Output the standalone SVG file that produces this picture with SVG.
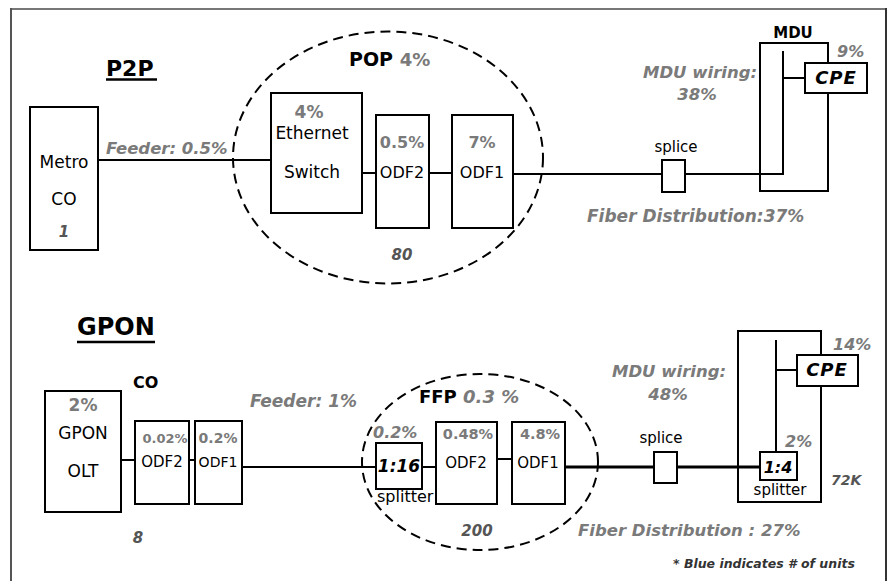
<svg xmlns="http://www.w3.org/2000/svg" width="890" height="581" viewBox="0 0 890 581">
<style>
text{font-family:"DejaVu Sans","Liberation Sans",sans-serif;font-size:17px;}
.box{fill:#fff;stroke:#000;stroke-width:2;}
.frm{fill:none;stroke:#000;stroke-width:2;}
.ln{stroke:#000;stroke-width:2;fill:none;}
.thk{stroke:#000;stroke-width:3;fill:none;}
.ell{fill:none;stroke:#000;stroke-width:2;stroke-dasharray:10 6;}
.t{fill:#000;}
.c{text-anchor:middle;}
.b{font-weight:bold;}
.g{fill:#7a7a7a;font-weight:bold;}
.gi{fill:#7a7a7a;font-weight:bold;font-style:italic;}
.n{fill:#555;font-weight:bold;font-style:italic;}
.bi{fill:#000;font-weight:bold;font-style:italic;}
</style>
<rect x="0" y="0" width="890" height="581" fill="#fff"/>
<g id="frame">
<line x1="11" y1="9" x2="887" y2="9" stroke="#777" stroke-width="2"/>
<line x1="11" y1="8" x2="11" y2="581" stroke="#555" stroke-width="2"/>
<line x1="886" y1="8" x2="886" y2="581" stroke="#333" stroke-width="2"/>
</g>
<g id="connectors">
<line class="ln" x1="98" y1="160" x2="271" y2="160"/>
<line class="ln" x1="362" y1="173" x2="376" y2="173"/>
<line class="ln" x1="429" y1="173" x2="452" y2="173"/>
<line class="ln" x1="513" y1="174" x2="662" y2="174"/>
<polyline class="ln" points="685,174 783,174 783,51"/>
<line class="ln" x1="783" y1="78" x2="805" y2="78"/>
<line class="ln" x1="121" y1="460" x2="135" y2="460"/>
<line class="ln" x1="189" y1="460" x2="195" y2="460"/>
<line class="ln" x1="242" y1="467" x2="376" y2="467"/>
<line class="ln" x1="422" y1="467" x2="436" y2="467"/>
<line class="ln" x1="497" y1="459" x2="512" y2="459"/>
<line class="thk" x1="565" y1="467" x2="654" y2="467"/>
<line class="thk" x1="677" y1="467" x2="760" y2="467"/>
<line class="ln" x1="776" y1="340" x2="776" y2="452"/>
<line class="ln" x1="776" y1="370" x2="797" y2="370"/>
</g>
<g id="titles">
<text x="106" y="76" class="t b" style="font-size:22px">P2P</text>
<line x1="106" y1="79.5" x2="157" y2="79.5" stroke="#000" stroke-width="2.5"/>
<text x="77" y="335" class="t b" style="font-size:24px">GPON</text>
<line x1="77" y1="342" x2="155" y2="342" stroke="#000" stroke-width="2.5"/>
</g>
<g id="metro-co">
<rect class="box" x="30" y="107" width="68" height="143"/>
<text x="64" y="168" class="t c">Metro</text>
<text x="64" y="205" class="t c">CO</text>
<text x="64" y="237" class="n c" style="font-size:15px">1</text>
</g>
<g id="feeder-p2p"><text x="106" y="154" class="gi" style="font-size:16.5px">Feeder: 0.5%</text></g>
<g id="pop">
<ellipse class="ell" cx="388" cy="157.5" rx="155" ry="126"/>
<text x="349" y="66" class="t b" style="font-size:19px">POP <tspan class="g" style="font-size:18px">4%</tspan></text>
<text x="402" y="260" class="n c" style="font-size:15px">80</text>
</g>
<g id="ethernet-switch">
<rect class="box" x="271" y="93" width="91" height="120"/>
<text x="309" y="118" class="g c">4%</text>
<text x="312" y="139" class="t c">Ethernet</text>
<text x="312" y="178" class="t c">Switch</text>
</g>
<g id="pop-odf2">
<rect class="box" x="376" y="115" width="53" height="113"/>
<text x="402" y="148" class="g c" style="font-size:16px">0.5%</text>
<text x="402" y="178" class="t c" style="font-size:16px">ODF2</text>
</g>
<g id="pop-odf1">
<rect class="box" x="452" y="115" width="61" height="113"/>
<text x="482" y="148" class="g c" style="font-size:16px">7%</text>
<text x="482" y="178" class="t c" style="font-size:16px">ODF1</text>
</g>
<g id="p2p-splice">
<rect class="box" x="662" y="160" width="23" height="32"/>
<text x="676" y="152" class="t c" style="font-size:15px">splice</text>
</g>
<g id="p2p-mdu">
<rect class="frm" x="760" y="43" width="68" height="148"/>
<text x="793" y="38" class="t c b" style="font-size:15px">MDU</text>
<text x="837" y="57" class="gi" style="font-size:16px">9%</text>
</g>
<g id="p2p-cpe">
<rect class="box" x="805" y="63" width="62" height="30"/>
<text x="836" y="84" class="bi c" style="font-size:18px" letter-spacing="1">CPE</text>
</g>
<g id="p2p-labels">
<text x="643" y="78" class="gi" style="font-size:16.5px">MDU wiring:</text>
<text x="697" y="100" class="gi c" style="font-size:16.5px">38%</text>
<text x="587" y="222" class="gi">Fiber Distribution:37%</text>
</g>
<g id="gpon-olt">
<rect class="box" x="45" y="391" width="76" height="121"/>
<text x="83" y="411" class="g c">2%</text>
<text x="83" y="439" class="t c">GPON</text>
<text x="83" y="477" class="t c">OLT</text>
</g>
<g id="co-label">
<text x="133" y="388" class="t b" style="font-size:16px">CO</text>
<text x="138" y="543" class="n c" style="font-size:15px">8</text>
</g>
<g id="co-odf2">
<rect class="box" x="135" y="421" width="54" height="83"/>
<text x="165" y="443" class="g c" style="font-size:13px">0.02%</text>
<text x="162" y="467" class="t c" style="font-size:15px">ODF2</text>
</g>
<g id="co-odf1">
<rect class="box" x="195" y="421" width="47" height="83"/>
<text x="218" y="443" class="g c" style="font-size:14px">0.2%</text>
<text x="218" y="467" class="t c" style="font-size:14px">ODF1</text>
</g>
<g id="feeder-gpon"><text x="250" y="407" class="gi">Feeder: 1%</text></g>
<g id="ffp">
<ellipse class="ell" cx="480" cy="462" rx="118" ry="88"/>
<text x="419" y="403" class="t b" style="font-size:18px">FFP <tspan style="fill:#7a7a7a;font-style:italic">0.3 %</tspan></text>
<text x="477" y="536" class="n c" style="font-size:15px">200</text>
</g>
<g id="ffp-splitter">
<rect class="box" x="376" y="443" width="46" height="46"/>
<text x="373" y="438" class="gi" style="font-size:16px">0.2%</text>
<text x="399" y="472" class="bi c" style="font-size:17px">1:16</text>
<text x="377" y="502" class="t" style="font-size:16px">splitter</text>
</g>
<g id="ffp-odf2">
<rect class="box" x="436" y="422" width="61" height="82"/>
<text x="468" y="439" class="g c" style="font-size:14.5px">0.48%</text>
<text x="466" y="468" class="t c" style="font-size:15px">ODF2</text>
</g>
<g id="ffp-odf1">
<rect class="box" x="512" y="422" width="53" height="82"/>
<text x="540" y="439" class="g c" style="font-size:14.5px">4.8%</text>
<text x="538" y="468" class="t c" style="font-size:15px">ODF1</text>
</g>
<g id="gpon-splice">
<rect class="box" x="654" y="452" width="23" height="31"/>
<text x="661" y="443" class="t c" style="font-size:15px">splice</text>
</g>
<g id="gpon-mdu">
<rect class="frm" x="738" y="331" width="83" height="171"/>
<text x="831" y="485" class="n" style="font-size:14px">72K</text>
</g>
<g id="gpon-splitter">
<rect class="box" x="760" y="452" width="37" height="28"/>
<text x="785" y="447" class="gi" style="font-size:16px">2%</text>
<text x="778" y="473" class="bi c" style="font-size:16px">1:4</text>
<text x="780" y="495" class="t c" style="font-size:15px">splitter</text>
</g>
<g id="gpon-cpe">
<rect class="box" x="797" y="355" width="61" height="31"/>
<text x="833" y="350" class="gi" style="font-size:16px">14%</text>
<text x="827" y="376" class="bi c" style="font-size:18px" letter-spacing="1">CPE</text>
</g>
<g id="gpon-labels">
<text x="612" y="377" class="gi" style="font-size:16.5px">MDU wiring:</text>
<text x="668" y="400" class="gi c" style="font-size:16.5px">48%</text>
<text x="578" y="536" class="gi" style="font-size:16.5px">Fiber Distribution : 27%</text>
<text x="673" y="568" style="fill:#333;font-weight:bold;font-style:italic;font-size:12.5px">* Blue indicates # of units</text>
</g>
</svg>
